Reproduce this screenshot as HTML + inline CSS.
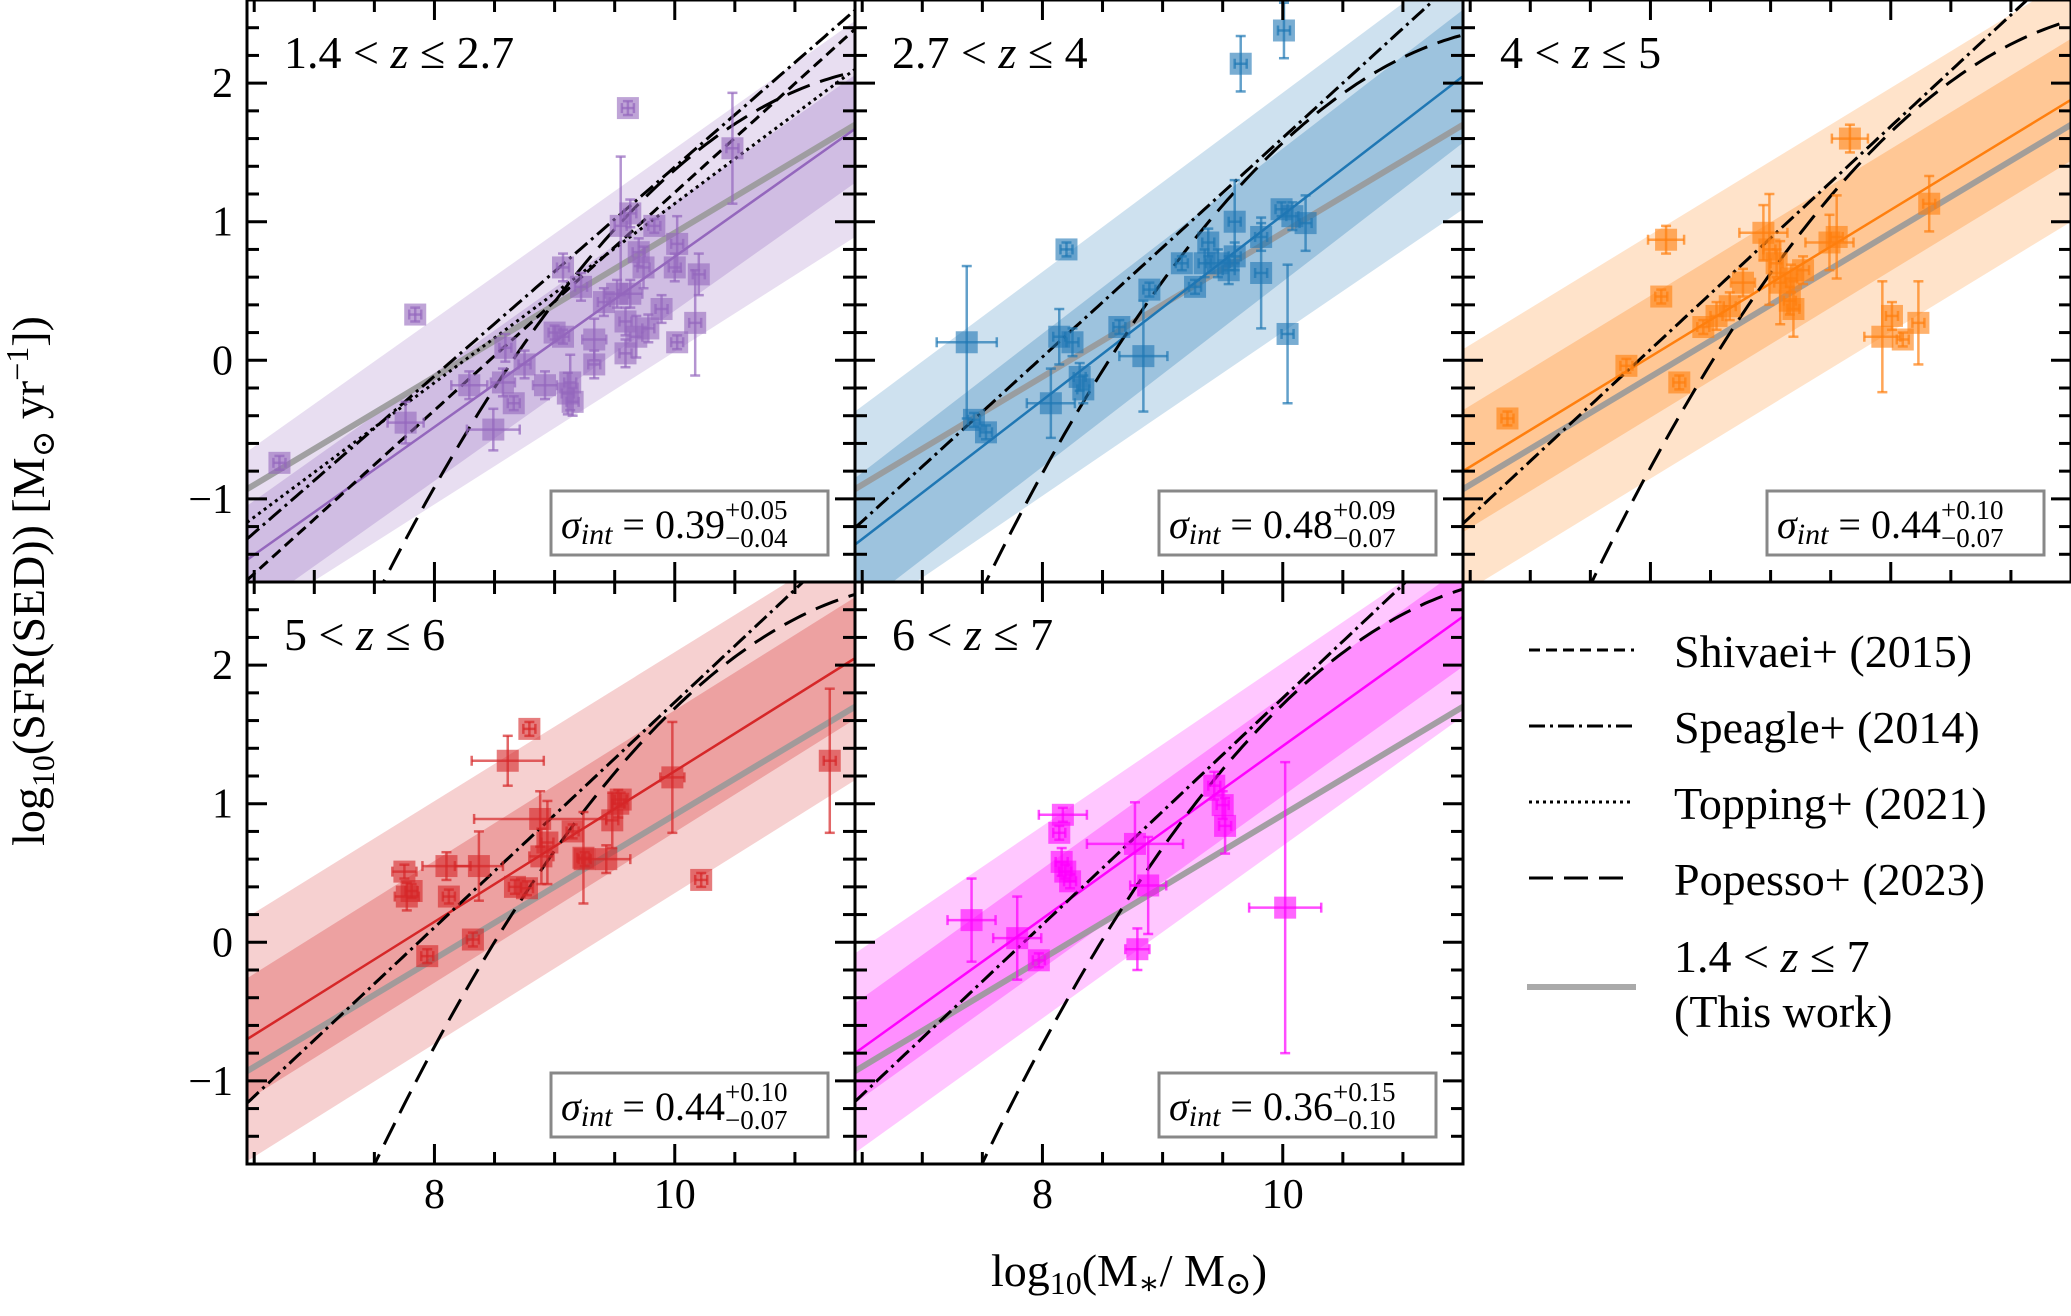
<!DOCTYPE html>
<html><head><meta charset="utf-8"><style>
html,body{margin:0;padding:0;background:#fff;width:2071px;height:1316px;overflow:hidden;}
svg{display:block;font-family:"Liberation Serif","DejaVu Serif",serif;}
</style></head><body>
<svg id="fig" width="2071" height="1316" viewBox="0 0 2071 1316" xmlns="http://www.w3.org/2000/svg">
<defs id="defs"></defs>
<g id="plots"></g>
<text transform="translate(44,581) rotate(-90)" text-anchor="middle" font-size="46">log<tspan font-size="32" dy="10">10</tspan><tspan dy="-10">(SFR(SED)) [M</tspan><tspan font-size="32" dy="10">⊙</tspan><tspan dy="-10"> yr</tspan><tspan font-size="32" dy="-16">−1</tspan><tspan dy="16">])</tspan></text>
<text x="1129" y="1286" text-anchor="middle" font-size="46">log<tspan font-size="32" dy="8">10</tspan><tspan dy="-8">(M</tspan><tspan font-size="32" dy="8">∗</tspan><tspan dy="-8">/ M</tspan><tspan font-size="32" dy="8">⊙</tspan><tspan dy="-8">)</tspan></text>
<g>
  <line x1="1529" y1="650" x2="1634" y2="650" stroke="#000" stroke-width="3" stroke-dasharray="11,6"/>
  <text x="1674" y="667" font-size="46">Shivaei+ (2015)</text>
  <line x1="1529" y1="726" x2="1634" y2="726" stroke="#000" stroke-width="3" stroke-dasharray="16,5,3,5"/>
  <text x="1674" y="743" font-size="46">Speagle+ (2014)</text>
  <line x1="1529" y1="802" x2="1634" y2="802" stroke="#000" stroke-width="3" stroke-dasharray="3,4"/>
  <text x="1674" y="819" font-size="46">Topping+ (2021)</text>
  <line x1="1529" y1="878" x2="1634" y2="878" stroke="#000" stroke-width="3" stroke-dasharray="24,11"/>
  <text x="1674" y="895" font-size="46">Popesso+ (2023)</text>
  <line x1="1527" y1="987" x2="1636" y2="987" stroke="#aaa" stroke-width="6"/>
  <text x="1674" y="972" font-size="46">1.4 &lt; <tspan font-style="italic">z</tspan> ≤ 7</text>
  <text x="1674" y="1027" font-size="46">(This work)</text>
</g>
</svg>
<script>
// ---- data ----
const xTicksMajor=[8,10];
const yTicksMajor=[-1,0,1,2];
const panelTitles=["1.4 < z ≤ 2.7","2.7 < z ≤ 4","4 < z ≤ 5","5 < z ≤ 6","6 < z ≤ 7"];
const panelColors=["#9467bd","#1f77b4","#ff7f0e","#d62728","#ff00ff"];
const sigmaVals=["0.39","0.48","0.44","0.44","0.36"];
const sigmaUp=["+0.05","+0.09","+0.10","+0.10","+0.15"];
const sigmaLo=["−0.04","−0.07","−0.07","−0.07","−0.10"];
const fitLeft=[-1.44,-1.33,-0.80,-0.70,-0.80];
const fitRight=[1.67,2.05,1.88,2.05,2.35];
const sigmaNum=[0.39,0.48,0.44,0.44,0.36];
const cosmicAge=[3.3,1.9,1.35,1.05,0.85];
const grayFit=[-0.93,1.70];
const shivaeiRel=[-1.54,2.39];
const toppingRel=[-1.17,2.10];

const p1x=[6.71,7.84,7.76,8.29,8.49,8.66,8.59,8.75,8.57,8.92,9.0,9.07,9.07,9.11,9.13,9.15,9.22,9.33,9.33,9.41,9.52,9.63,9.55,9.63,9.61,9.59,9.59,9.68,9.74,9.78,9.83,9.89,10.02,10.0,10.02,10.17,10.2,10.48,9.7];
const p1y=[-0.74,0.33,-0.45,-0.18,-0.50,-0.31,0.09,-0.03,-0.16,-0.18,0.2,0.17,0.67,-0.24,-0.16,-0.3,0.53,0.15,-0.03,0.42,0.48,0.48,0.97,1.06,1.82,0.28,0.05,0.17,0.67,0.23,0.97,0.37,0.84,0.67,0.13,0.27,0.62,1.53,0.78];
const p1ex=[0.05,0.05,0.15,0.15,0.22,0.05,0.05,0.05,0.1,0.1,0.05,0.05,0.05,0.05,0.05,0.05,0.05,0.1,0.05,0.05,0.1,0.1,0.05,0.05,0.05,0.05,0.05,0.05,0.05,0.05,0.05,0.05,0.05,0.05,0.05,0.05,0.05,0.05,0.05];
const p1ey=[0.05,0.05,0.15,0.1,0.15,0.05,0.1,0.1,0.1,0.1,0.05,0.05,0.1,0.15,0.2,0.1,0.1,0.15,0.1,0.1,0.1,0.1,0.5,0.1,0.05,0.1,0.1,0.15,0.15,0.1,0.05,0.1,0.2,0.1,0.05,0.38,0.15,0.4,0.1];

const p2x=[7.37,7.43,7.53,8.2,8.07,8.14,8.25,8.31,8.34,8.64,8.84,8.89,9.16,9.27,9.35,9.38,9.46,9.55,9.6,9.65,9.82,9.82,10.01,9.99,10.08,10.19,10.04,9.6];
const p2y=[0.13,-0.43,-0.52,0.80,-0.31,0.17,0.13,-0.12,-0.21,0.24,0.03,0.51,0.70,0.53,0.70,0.85,0.70,0.65,1.0,2.14,0.89,0.63,2.38,1.09,1.04,0.99,0.19,0.75];
const p2ex=[0.25,0.05,0.05,0.05,0.2,0.05,0.05,0.05,0.05,0.05,0.2,0.05,0.05,0.05,0.05,0.05,0.1,0.05,0.05,0.05,0.05,0.05,0.05,0.05,0.05,0.05,0.05,0.05];
const p2ey=[0.55,0.05,0.05,0.05,0.25,0.2,0.1,0.1,0.1,0.05,0.4,0.05,0.05,0.05,0.1,0.1,0.1,0.1,0.3,0.2,0.1,0.4,0.2,0.05,0.1,0.2,0.5,0.1];

const p3x=[6.81,7.8,8.09,8.13,8.24,8.44,8.55,8.66,8.77,8.94,8.99,9.05,9.08,9.16,9.17,9.19,9.27,9.49,9.55,9.66,9.93,10.01,10.1,10.23,10.32];
const p3y=[-0.42,-0.04,0.46,0.87,-0.16,0.24,0.32,0.39,0.56,0.92,0.80,0.70,0.56,0.43,0.59,0.37,0.65,0.85,0.89,1.6,0.17,0.32,0.15,0.27,1.13];
const p3ex=[0.05,0.05,0.05,0.15,0.05,0.05,0.05,0.05,0.1,0.2,0.05,0.05,0.05,0.05,0.05,0.05,0.05,0.2,0.05,0.15,0.15,0.05,0.05,0.05,0.05];
const p3ey=[0.05,0.05,0.05,0.1,0.05,0.05,0.1,0.1,0.1,0.2,0.4,0.1,0.3,0.1,0.1,0.2,0.1,0.2,0.3,0.1,0.4,0.1,0.05,0.3,0.2];

const p4x=[7.75,7.77,7.81,8.1,8.12,8.37,8.32,7.94,8.61,8.79,8.67,8.77,8.88,8.89,8.94,9.15,9.24,9.25,9.43,9.48,9.53,9.55,9.98,10.22,11.29];
const p4y=[0.51,0.33,0.37,0.55,0.33,0.55,0.02,-0.1,1.31,1.54,0.4,0.39,0.89,0.62,0.72,0.8,0.61,0.6,0.6,0.88,1.0,1.03,1.19,0.45,1.31];
const p4ex=[0.1,0.1,0.05,0.2,0.05,0.2,0.05,0.05,0.3,0.05,0.05,0.05,0.55,0.1,0.05,0.05,0.05,0.05,0.2,0.05,0.05,0.05,0.1,0.05,0.05];
const p4ey=[0.05,0.1,0.05,0.1,0.05,0.25,0.05,0.05,0.18,0.05,0.05,0.05,0.2,0.2,0.3,0.05,0.33,0.05,0.1,0.2,0.1,0.05,0.4,0.05,0.52];

const p5x=[7.41,7.79,7.97,8.17,8.14,8.16,8.19,8.23,8.77,8.79,8.88,9.43,9.5,9.52,10.02];
const p5y=[0.16,0.03,-0.13,0.92,0.79,0.58,0.51,0.44,0.71,-0.05,0.41,1.13,0.99,0.84,0.25];
const p5ex=[0.2,0.2,0.05,0.2,0.05,0.05,0.05,0.05,0.4,0.1,0.15,0.05,0.05,0.05,0.3];
const p5ey=[0.3,0.3,0.05,0.05,0.05,0.1,0.05,0.05,0.3,0.15,0.35,0.1,0.1,0.2,1.05];

const ptsX=[p1x,p2x,p3x,p4x,p5x], ptsY=[p1y,p2y,p3y,p4y,p5y], ptsEX=[p1ex,p2ex,p3ex,p4ex,p5ex], ptsEY=[p1ey,p2ey,p3ey,p4ey,p5ey];

// ---- layout ----
const NS="http://www.w3.org/2000/svg";
const XMIN=6.44, XMAX=11.5, YMIN=-1.6, YMAX=2.6, PW=608, PH=582;
const panelX0=[247,855,1463,247,855], panelY0=[0,0,0,582,582];
function mk(tag,attrs,parent){const e=document.createElementNS(NS,tag);for(const k in attrs)e.setAttribute(k,attrs[k]);parent.appendChild(e);return e;}
const plots=document.getElementById('plots'), defs=document.getElementById('defs');
function speagle(x,t){return (0.84-0.026*t)*x-(6.51-0.11*t);}
function popesso(x,t){return (-0.034*t+4.722)*x-0.1925*x*x+(-26.134+0.2*t);}
function clampY(v){return Math.max(YMIN-0.3,Math.min(YMAX+0.3,v));}

for(let p=0;p<5;p++){
  const x0=panelX0[p], y0=panelY0[p];
  const sx=v=>x0+(v-XMIN)/(XMAX-XMIN)*PW;
  const sy=v=>y0+(YMAX-v)/(YMAX-YMIN)*PH;
  const cp=mk('clipPath',{id:'clip'+p},defs);
  mk('rect',{x:x0,y:y0,width:PW,height:PH},cp);
  const g=mk('g',{'clip-path':'url(#clip'+p+')'},plots);
  
  
  const col=panelColors[p];
  const fit=v=>fitLeft[p]+(fitRight[p]-fitLeft[p])*(v-XMIN)/(XMAX-XMIN);
  const s=sigmaNum[p];
  [[2*s,0.22],[s,0.28]].forEach((b,i)=>{
    const d=`M${sx(XMIN)},${sy(clampY(fit(XMIN)+b[0]))} L${sx(XMAX)},${sy(clampY(fit(XMAX)+b[0]))} L${sx(XMAX)},${sy(clampY(fit(XMAX)-b[0]))} L${sx(XMIN)},${sy(clampY(fit(XMIN)-b[0]))} Z`;
    const e=mk('path',{d:d,fill:col,'fill-opacity':b[1]},g);
    
    
  });
  const gl=mk('line',{x1:sx(XMIN),y1:sy(grayFit[0]),x2:sx(XMAX),y2:sy(grayFit[1]),stroke:'#999',"stroke-width":6,"stroke-opacity":0.9},g);
  
  
  const fl=mk('line',{x1:sx(XMIN),y1:sy(fitLeft[p]),x2:sx(XMAX),y2:sy(fitRight[p]),stroke:col,"stroke-width":2.5},g);
  
  
  function curve(fn,dash,name){
    let d='';for(let i=0;i<=160;i++){const v=XMIN+(XMAX-XMIN)*i/160;d+=(i?'L':'M')+sx(v).toFixed(1)+','+sy(clampY(fn(v))).toFixed(1);}
    const e=mk('path',{d:d,fill:'none',stroke:'#000','stroke-width':3,'stroke-dasharray':dash},g);
    
    
  }
  if(p==0){
    curve(v=>shivaeiRel[0]+(shivaeiRel[1]-shivaeiRel[0])*(v-6.5)/5,'11,6','shivaei-relation');
    curve(v=>toppingRel[0]+(toppingRel[1]-toppingRel[0])*(v-XMIN)/(XMAX-XMIN),'3,4','topping-relation');
  }
  curve(v=>speagle(v,cosmicAge[p]),'16,5,3,5','speagle-relation');
  curve(v=>popesso(v,cosmicAge[p]),'24,11','popesso-relation');
  const X=ptsX[p],Y=ptsY[p],EX=ptsEX[p],EY=ptsEY[p];
  for(let i=0;i<X.length;i++){
    const pg=mk('g',{},g);
    
    
    mk('rect',{x:sx(X[i])-11,y:sy(Y[i])-11,width:22,height:22,fill:col,'fill-opacity':0.6},pg);
    const a={stroke:col,'stroke-width':2.5,'stroke-opacity':0.7};
    mk('line',Object.assign({x1:sx(X[i]-EX[i]),y1:sy(Y[i]),x2:sx(X[i]+EX[i]),y2:sy(Y[i])},a),pg);
    mk('line',Object.assign({x1:sx(X[i]),y1:sy(Y[i]-EY[i]),x2:sx(X[i]),y2:sy(Y[i]+EY[i])},a),pg);
    mk('line',Object.assign({x1:sx(X[i]-EX[i]),y1:sy(Y[i])-5,x2:sx(X[i]-EX[i]),y2:sy(Y[i])+5},a),pg);
    mk('line',Object.assign({x1:sx(X[i]+EX[i]),y1:sy(Y[i])-5,x2:sx(X[i]+EX[i]),y2:sy(Y[i])+5},a),pg);
    mk('line',Object.assign({x1:sx(X[i])-5,y1:sy(Y[i]-EY[i]),x2:sx(X[i])+5,y2:sy(Y[i]-EY[i])},a),pg);
    mk('line',Object.assign({x1:sx(X[i])-5,y1:sy(Y[i]+EY[i]),x2:sx(X[i])+5,y2:sy(Y[i]+EY[i])},a),pg);
  }
  const fr=mk('rect',{x:x0,y:y0,width:PW,height:PH,fill:'none',stroke:'#000','stroke-width':3},plots);
  
  
  const tg=mk('g',{stroke:'#000','stroke-width':3},plots);
  
  
  for(let v=6.5;v<=11.5001;v+=0.5){
    const maj=xTicksMajor.some(t=>Math.abs(t-v)<1e-6), L=maj?20:12, X1=sx(v);
    mk('line',{x1:X1,y1:y0+PH,x2:X1,y2:y0+PH-L},tg);
    mk('line',{x1:X1,y1:y0,x2:X1,y2:y0+L},tg);
  }
  for(let k=-8;k<=13;k++){
    const v=k*0.2; if(v<YMIN-1e-6||v>YMAX+1e-6)continue;
    const maj=yTicksMajor.some(t=>Math.abs(t-v)<1e-6), L=maj?20:12, Y1=sy(v);
    mk('line',{x1:x0,y1:Y1,x2:x0+L,y2:Y1},tg);
    mk('line',{x1:x0+PW,y1:Y1,x2:x0+PW-L,y2:Y1},tg);
  }
  if(p==0||p==3){
    yTicksMajor.forEach(v=>{
      const t=mk('text',{x:x0-14,y:sy(v)+14,'text-anchor':'end','font-size':42},plots);
      
      
      t.textContent=v<0?'−'+(-v):String(v);
    });
  }
  if(p>=3){
    xTicksMajor.forEach(v=>{
      const t=mk('text',{x:sx(v),y:y0+PH+44,'text-anchor':'middle','font-size':42},plots);
      
      
      t.textContent=String(v);
    });
  }
  const parts=panelTitles[p].split('z');
  const tt=mk('text',{x:x0+37,y:y0+68,'font-size':46},plots);
  
  
  mk('tspan',{},tt).textContent=parts[0];
  mk('tspan',{'font-style':'italic'},tt).textContent='z';
  mk('tspan',{},tt).textContent=parts[1];
  const bx=x0+PW-27-277, by=y0+PH-27-64;
  const sb=mk('g',{},plots);
  
  
  mk('rect',{x:bx,y:by,width:277,height:64,fill:'#fff',stroke:'#888','stroke-width':3},sb);
  const st=mk('text',{x:bx+10,y:by+47,'font-size':40},sb);
  mk('tspan',{'font-style':'italic'},st).textContent='σ';
  const sub=mk('tspan',{'font-style':'italic','font-size':30,dy:6},st); sub.textContent='int';
  const eq=mk('tspan',{dy:-6},st); eq.textContent=' = '+sigmaVals[p];
  let w=0; try{w=st.getComputedTextLength();}catch(e){w=170;}
  if(!w) w=170;
  const ex=bx+10+w;
  const up=mk('text',{x:ex,y:by+28,'font-size':27},sb); up.textContent=sigmaUp[p];
  const lo=mk('text',{x:ex,y:by+56,'font-size':27},sb); lo.textContent=sigmaLo[p];
}
</script>
</body></html>
